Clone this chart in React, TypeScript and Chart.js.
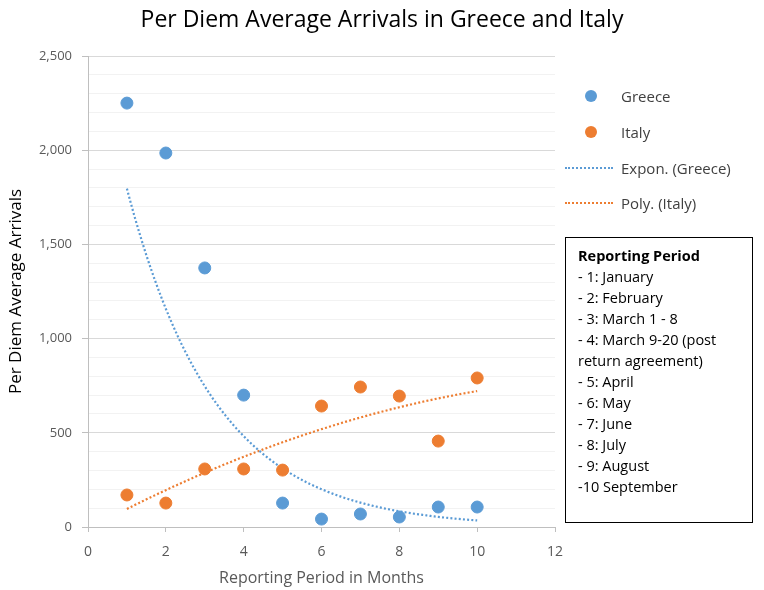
import React, { useEffect, useRef } from "react";
import { Chart, registerables } from "chart.js";

Chart.register(...registerables);

const periods = [1, 2, 3, 4, 5, 6, 7, 8, 9, 10];
const greece = [2250, 1985, 1375, 700, 127, 42, 69, 53, 106, 106];
const italy = [170, 127, 308, 308, 302, 642, 743, 695, 456, 791];
const legendNote = [
  "- 1: January",
  "- 2: February",
  "- 3: March 1 - 8",
  "- 4: March 9-20 (post",
  "return agreement)",
  "- 5: April",
  "- 6: May",
  "- 7: June",
  "- 8: July",
  "- 9: August",
  "-10 September",
];

const BLUE = "#5B9BD5";
const ORANGE = "#ED7D31";
const FONT = "'Open Sans', 'Noto Sans', sans-serif";

function expFit(xs: number[], ys: number[]) {
  const n = xs.length;
  const ly = ys.map((v) => Math.log(v));
  const mx = xs.reduce((a, b) => a + b, 0) / n;
  const my = ly.reduce((a, b) => a + b, 0) / n;
  let sxy = 0, sxx = 0;
  for (let i = 0; i < n; i++) {
    sxy += (xs[i] - mx) * (ly[i] - my);
    sxx += (xs[i] - mx) * (xs[i] - mx);
  }
  const b = sxy / sxx;
  const a = Math.exp(my - b * mx);
  return (x: number) => a * Math.exp(b * x);
}

function polyFit2(xs: number[], ys: number[]) {
  const S = [0, 0, 0, 0, 0];
  const T = [0, 0, 0];
  for (let i = 0; i < xs.length; i++) {
    for (let k = 0; k < 5; k++) S[k] += Math.pow(xs[i], k);
    for (let k = 0; k < 3; k++) T[k] += ys[i] * Math.pow(xs[i], k);
  }
  const M = [
    [S[0], S[1], S[2], T[0]],
    [S[1], S[2], S[3], T[1]],
    [S[2], S[3], S[4], T[2]],
  ];
  for (let c = 0; c < 3; c++) {
    for (let r = c + 1; r < 3; r++) {
      const f = M[r][c] / M[c][c];
      for (let k = c; k < 4; k++) M[r][k] -= f * M[c][k];
    }
  }
  const coef = [0, 0, 0];
  for (let r = 2; r >= 0; r--) {
    let s = M[r][3];
    for (let k = r + 1; k < 3; k++) s -= M[r][k] * coef[k];
    coef[r] = s / M[r][r];
  }
  return (x: number) => coef[0] + coef[1] * x + coef[2] * x * x;
}

export default function App() {
  const ref = useRef<HTMLCanvasElement>(null);

  useEffect(() => {
    if (!ref.current) return;
    const gf = expFit(periods, greece);
    const pf = polyFit2(periods, italy);
    const xs: number[] = [];
    const x0 = periods[0];
    const x1 = periods[periods.length - 1];
    for (let i = 0; i <= 90; i++) xs.push(x0 + ((x1 - x0) * i) / 90);

    const chart = new Chart(ref.current, {
      type: "scatter",
      data: {
        datasets: [
          {
            label: "Greece",
            data: periods.map((x, i) => ({ x, y: greece[i] })),
            backgroundColor: BLUE,
            borderColor: BLUE,
            pointRadius: 6,
            order: 1,
          },
          {
            label: "Italy",
            data: periods.map((x, i) => ({ x, y: italy[i] })),
            backgroundColor: ORANGE,
            borderColor: ORANGE,
            pointRadius: 6,
            order: 1,
          },
          {
            label: "Expon. (Greece)",
            type: "line",
            data: xs.map((x) => ({ x, y: gf(x) })),
            borderColor: BLUE,
            borderWidth: 2.2,
            borderDash: [2, 2.2],
            pointRadius: 0,
            fill: false,
            order: 2,
          } as any,
          {
            label: "Poly. (Italy)",
            type: "line",
            data: xs.map((x) => ({ x, y: pf(x) })),
            borderColor: ORANGE,
            borderWidth: 2.2,
            borderDash: [2, 2.2],
            pointRadius: 0,
            fill: false,
            order: 2,
          } as any,
        ],
      },
      options: {
        animation: false,
        responsive: true,
        maintainAspectRatio: false,
        layout: { padding: { left: 0, right: 209, top: 56, bottom: 0 } },
        plugins: {
          legend: { display: false },
          tooltip: { enabled: false },
          title: { display: false },
        },
        scales: {
          x: {
            type: "linear",
            min: 0,
            max: 12,
            afterFit: (s: any) => {
              s.height = 63;
            },
            ticks: {
              stepSize: 2,
              padding: 12,
              color: "#595959",
              font: { family: FONT, size: 14 },
            },
            grid: {
              drawOnChartArea: false,
              drawTicks: true,
              tickLength: 5,
              tickColor: "#bfbfbf",
            },
            border: { display: true, color: "#bfbfbf" },
            title: {
              display: true,
              text: "Reporting Period in Months",
              color: "#595959",
              font: { family: FONT, size: 16 },
              padding: { top: 4, bottom: 2 },
            },
          },
          y: {
            type: "linear",
            min: 0,
            max: 2500,
            afterFit: (s: any) => {
              s.width = 88;
            },
            ticks: {
              stepSize: 100,
              autoSkip: false,
              padding: 10,
              color: "#595959",
              font: { family: FONT, size: 13 },
              callback: (v: any) =>
                Number(v) % 500 === 0 ? Number(v).toLocaleString("en-US") : "",
            },
            grid: {
              color: (ctx: any) =>
                ctx.tick && ctx.tick.value % 500 === 0 ? "#d9d9d9" : "#f2f2f2",
              tickColor: (ctx: any) =>
                ctx.tick && ctx.tick.value % 500 === 0 ? "#bfbfbf" : "rgba(0,0,0,0)",
              tickLength: 6,
              lineWidth: 1,
            },
            border: { display: true, color: "#bfbfbf" },
            title: {
              display: true,
              text: "Per Diem Average Arrivals",
              color: "#000000",
              font: { family: FONT, size: 17 },
              padding: { top: 6, bottom: 0 },
            },
          },
        },
      },
    });
    return () => chart.destroy();
  }, []);

  const legendItem = (top: number, kind: "dot" | "line", color: string, text: string) => (
    <div
      style={{
        position: "absolute",
        left: 560,
        top: top - 12,
        height: 24,
        display: "flex",
        alignItems: "center",
      }}
    >
      <div style={{ width: 56, display: "flex", justifyContent: "center", alignItems: "center" }}>
        {kind === "dot" ? (
          <div style={{ width: 12, height: 12, borderRadius: 6, background: color, marginLeft: 6 }} />
        ) : (
          <div style={{ width: 48, borderTop: `2px dotted ${color}`, marginLeft: 2 }} />
        )}
      </div>
      <span style={{ marginLeft: 5, fontFamily: FONT, fontSize: 15, color: "#404040" }}>{text}</span>
    </div>
  );

  return (
    <div
      style={{
        position: "fixed",
        left: 0,
        top: 0,
        width: 764,
        height: 590,
        background: "#ffffff",
      }}
    >
      <canvas ref={ref} style={{ position: "absolute", left: 0, top: 0 }} />
      <div
        style={{
          position: "absolute",
          left: 0,
          top: 3,
          width: 764,
          textAlign: "center",
          fontFamily: FONT,
          fontSize: 23,
          color: "#000000",
          lineHeight: "30px",
        }}
      >
        Per Diem Average Arrivals in Greece and Italy
      </div>
      {legendItem(96, "dot", BLUE, "Greece")}
      {legendItem(132, "dot", ORANGE, "Italy")}
      {legendItem(168, "line", BLUE, "Expon. (Greece)")}
      {legendItem(203, "line", ORANGE, "Poly. (Italy)")}
      <div
        style={{
          position: "absolute",
          left: 565,
          top: 237,
          width: 186,
          height: 277,
          border: "1.5px solid #000000",
          boxSizing: "content-box",
          background: "#ffffff",
          fontFamily: FONT,
          fontSize: 14.5,
          lineHeight: "21px",
          color: "#000000",
          paddingTop: 7,
        }}
      >
        <div style={{ paddingLeft: 12, fontWeight: "bold" }}>Reporting Period</div>
        {legendNote.map((t, i) => (
          <div key={i} style={{ paddingLeft: 12, whiteSpace: "nowrap" }}>
            {t}
          </div>
        ))}
      </div>
    </div>
  );
}
